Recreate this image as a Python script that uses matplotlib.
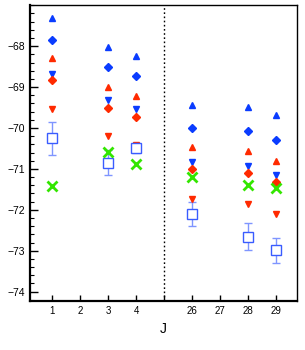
import numpy as np
import matplotlib
matplotlib.use("Agg")
import matplotlib.pyplot as plt
from matplotlib.ticker import MultipleLocator

plt.rcParams['font.family'] = ['Liberation Sans', 'DejaVu Sans']

# J values and their slot on the broken axis
j_labels = ['1', '2', '3', '4', '', '26', '27', '28', '29']
j_data = [1, 3, 4, 26, 28, 29]
slot = {1: 1, 2: 2, 3: 3, 4: 4, 26: 6, 27: 7, 28: 8, 29: 9}
y_ticks = [-74, -73, -72, -71, -70, -69, -68]

blue_up = [-67.30, -68.02, -68.25, -69.43, -69.49, -69.68]
blue_diamond = [-67.84, -68.52, -68.74, -69.99, -70.07, -70.29]
red_up = [-68.29, -69.00, -69.21, -70.47, -70.56, -70.80]
blue_down = [-68.67, -69.31, -69.53, -70.84, -70.92, -71.15]
red_diamond = [-68.83, -69.51, -69.73, -71.01, -71.09, -71.32]
red_down = [-69.53, -70.20, -70.42, -71.74, -71.86, -72.10]
green_x = [-71.41, -70.58, -70.88, -71.21, -71.39, -71.47]
square = [-70.25, -70.85, -70.49, -72.10, -72.66, -72.99]
square_err = [0.40, 0.30, 0.12, 0.29, 0.33, 0.30]

blue = '#0a3cff'
red = '#ff2a00'
green = '#33e600'

x = [slot[j] for j in j_data]

fig = plt.figure(figsize=(3.05, 3.5), dpi=100)
ax = fig.add_axes([0.098, 0.141, 0.876, 0.844])

ax.axvline(5, color='black', linestyle=(0, (1.2, 1.8)), linewidth=1.0, zorder=1)

ax.errorbar(x, square, yerr=square_err, fmt='none', ecolor='#7f95ff',
            elinewidth=1.0, capsize=3, capthick=1.0, zorder=2)
ax.plot(x, red_down, 'v', color=red, markersize=5, zorder=3)
ax.plot(x, square, 's', markerfacecolor='white', markeredgecolor='#3a5cff',
        markeredgewidth=1.0, markersize=7, zorder=4)
ax.plot(x, blue_up, '^', color=blue, markersize=5, zorder=3)
ax.plot(x, blue_diamond, 'D', color=blue, markersize=4, zorder=3)
ax.plot(x, red_up, '^', color=red, markersize=5, zorder=3)
ax.plot(x, blue_down, 'v', color=blue, markersize=5, zorder=3)
ax.plot(x, red_diamond, 'D', color=red, markersize=4, zorder=3)
ax.plot(x, green_x, 'x', color=green, markersize=7, markeredgewidth=2.0, zorder=5)

ax.set_xlim(0.2, 9.74)
ax.set_ylim(-74.22, -67.0)
ax.set_xticks(range(1, 10))
ax.set_xticklabels(j_labels)
ax.set_yticks(y_ticks)
ax.yaxis.set_minor_locator(MultipleLocator(0.2))

ax.tick_params(axis='x', direction='in', length=4, width=1.0, labelsize=7, pad=4)
ax.tick_params(axis='y', which='major', direction='in', length=6, width=1.0, labelsize=7.5)
ax.tick_params(axis='y', which='minor', direction='in', length=3, width=0.8)

for side in ['left', 'bottom']:
    ax.spines[side].set_linewidth(1.6)
for side in ['top', 'right']:
    ax.spines[side].set_linewidth(1.0)

ax.set_xlabel('J', fontsize=10, labelpad=4)

fig.savefig('out.png', dpi=100)
